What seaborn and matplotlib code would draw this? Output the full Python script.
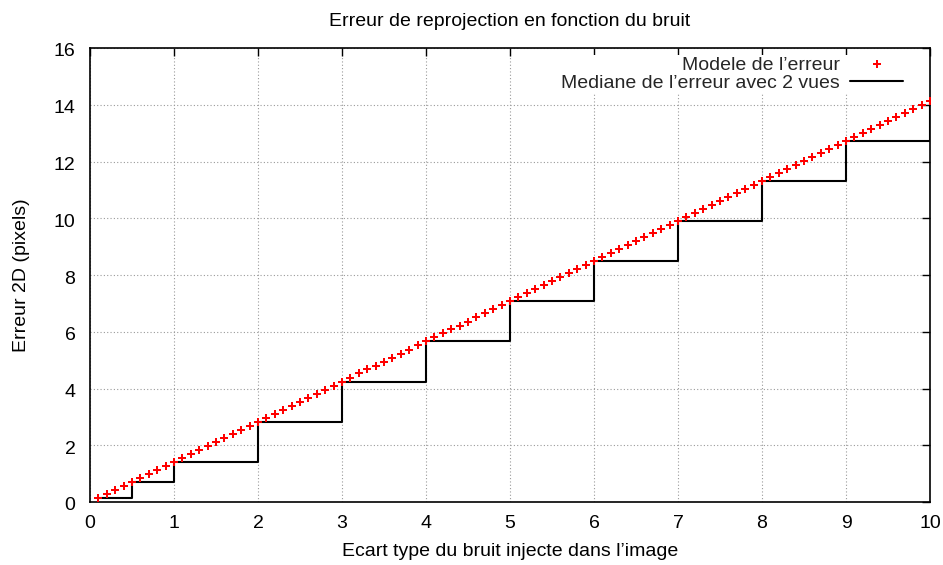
import matplotlib
matplotlib.use("Agg")
import matplotlib.pyplot as plt
import matplotlib.transforms as mtransforms
import seaborn as sns
import pandas as pd
from matplotlib.lines import Line2D

# Model of the reprojection error, sampled every 0.1 pixel of noise
model_x = [
    0.1, 0.2, 0.3, 0.4, 0.5, 0.6, 0.7, 0.8, 0.9, 1.0,
    1.1, 1.2, 1.3, 1.4, 1.5, 1.6, 1.7, 1.8, 1.9, 2.0,
    2.1, 2.2, 2.3, 2.4, 2.5, 2.6, 2.7, 2.8, 2.9, 3.0,
    3.1, 3.2, 3.3, 3.4, 3.5, 3.6, 3.7, 3.8, 3.9, 4.0,
    4.1, 4.2, 4.3, 4.4, 4.5, 4.6, 4.7, 4.8, 4.9, 5.0,
    5.1, 5.2, 5.3, 5.4, 5.5, 5.6, 5.7, 5.8, 5.9, 6.0,
    6.1, 6.2, 6.3, 6.4, 6.5, 6.6, 6.7, 6.8, 6.9, 7.0,
    7.1, 7.2, 7.3, 7.4, 7.5, 7.6, 7.7, 7.8, 7.9, 8.0,
    8.1, 8.2, 8.3, 8.4, 8.5, 8.6, 8.7, 8.8, 8.9, 9.0,
    9.1, 9.2, 9.3, 9.4, 9.5, 9.6, 9.7, 9.8, 9.9, 10.0,
]
model_y = [
    0.14, 0.28, 0.42, 0.57, 0.71, 0.85, 0.99, 1.13, 1.27, 1.41,
    1.56, 1.70, 1.84, 1.98, 2.12, 2.26, 2.40, 2.55, 2.69, 2.83,
    2.97, 3.11, 3.25, 3.39, 3.54, 3.68, 3.82, 3.96, 4.10, 4.24,
    4.38, 4.53, 4.67, 4.81, 4.95, 5.09, 5.23, 5.37, 5.52, 5.66,
    5.80, 5.94, 6.08, 6.22, 6.36, 6.51, 6.65, 6.79, 6.93, 7.07,
    7.21, 7.35, 7.50, 7.64, 7.78, 7.92, 8.06, 8.20, 8.34, 8.49,
    8.63, 8.77, 8.91, 9.05, 9.19, 9.33, 9.48, 9.62, 9.76, 9.90,
    10.04, 10.18, 10.32, 10.47, 10.61, 10.75, 10.89, 11.03, 11.17, 11.31,
    11.46, 11.60, 11.74, 11.88, 12.02, 12.16, 12.30, 12.45, 12.59, 12.73,
    12.87, 13.01, 13.15, 13.29, 13.44, 13.58, 13.72, 13.86, 14.00, 14.14,
]

# Median error measured with 2 views
median_x = [0.1, 0.5, 1, 2, 3, 4, 5, 6, 7, 8, 9, 10]
median_y = [0.14, 0.71, 1.41, 2.83, 4.24, 5.66, 7.07, 8.49, 9.90, 11.31, 12.73, 14.14]

x_ticks = [0, 1, 2, 3, 4, 5, 6, 7, 8, 9, 10]
y_ticks = [0, 2, 4, 6, 8, 10, 12, 14, 16]

label_model = "Modele de l\u2019erreur"
label_median = "Mediane de l\u2019erreur avec 2 vues"

FS = 14

sns.set_theme(style="white")
plt.rcParams["font.family"] = ["Liberation Sans", "DejaVu Sans"]
plt.rcParams["font.size"] = FS

fig = plt.figure(figsize=(9.43, 5.65), dpi=100)
ax = fig.add_axes([90 / 943, 1 - 502 / 565, 840 / 943, 454 / 565])

df_model = pd.DataFrame({"x": model_x, "y": model_y})
df_median = pd.DataFrame({"x": median_x, "y": median_y})

sns.lineplot(data=df_median, x="x", y="y", ax=ax, color="black",
             linewidth=1.5, drawstyle="steps-post", sort=False, zorder=3)
sns.scatterplot(data=df_model, x="x", y="y", ax=ax, color="red",
                marker="P", s=28, linewidth=0, zorder=4)

ax.set_xlim(0, 10)
ax.set_ylim(0, 16)
ax.set_xticks(x_ticks)
ax.set_yticks(y_ticks)
ax.set_xticklabels([str(v) for v in x_ticks])
ax.set_yticklabels([str(v) for v in y_ticks])

ax.grid(True, color="#9a9a9a", linestyle=(0, (1, 2)), linewidth=0.8)
ax.set_axisbelow(True)
for s in ax.spines.values():
    s.set_color("black")
    s.set_linewidth(1.2)
ax.tick_params(direction="in", length=6, width=1.0, color="black",
               top=True, right=True, labelsize=FS, labelcolor="black")
ax.tick_params(axis="x", pad=9)
ax.tick_params(axis="y", pad=10.5)

# nudge the y tick labels slightly downward
shift = mtransforms.ScaledTranslation(0, -2 / 100, fig.dpi_scale_trans)
for lbl in ax.get_yticklabels():
    lbl.set_transform(lbl.get_transform() + shift)

ax.set_title("Erreur de reprojection en fonction du bruit", fontsize=FS,
             pad=16, color="black")
ax.set_xlabel("Ecart type du bruit injecte dans l\u2019image", fontsize=FS,
              labelpad=8, color="black")
ax.set_ylabel("Erreur 2D (pixels)", fontsize=FS, labelpad=17, color="black")

handles = [
    Line2D([], [], color="red", marker="P", markersize=5.5, linestyle="none",
           markeredgewidth=0),
    Line2D([], [], color="black", linewidth=1.5),
]
leg = ax.legend(handles, [label_model, label_median], loc="upper right",
                bbox_to_anchor=(0.97, 0.985), markerfirst=False,
                frameon=True, fancybox=False, framealpha=1,
                facecolor="white", edgecolor="none", handlelength=2.7,
                handletextpad=0.55, labelspacing=0.0, borderpad=0.1,
                fontsize=FS, borderaxespad=0.0)
leg.set_zorder(2.4)

fig.savefig("out.png", dpi=100)
